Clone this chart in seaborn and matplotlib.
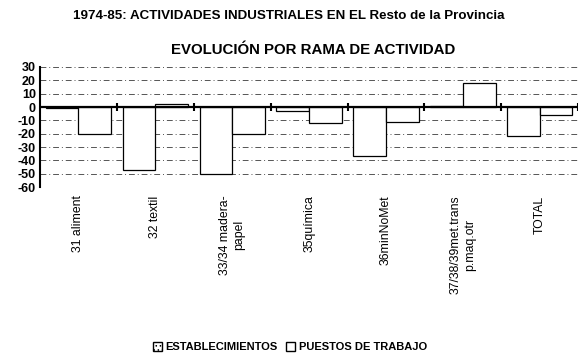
import matplotlib
matplotlib.use("Agg")
import matplotlib.pyplot as plt
import seaborn as sns
import pandas as pd
from matplotlib.patches import Patch

categories = ["31 aliment", "32 textil", "33/34 madera-\npapel", "35química",
              "36minNoMet", "37/38/39met.trans\np.maq.otr", "TOTAL"]
establecimientos = [-1, -47, -50, -3, -37, 1, -22]
puestos = [-20, 2, -20, -12, -11, 18, -6]
series_names = ["ESTABLECIMIENTOS", "PUESTOS DE TRABAJO"]
y_ticks = [30, 20, 10, 0, -10, -20, -30, -40, -50, -60]

sns.set_theme(style="white")
plt.rcParams['font.family'] = ['Liberation Sans', 'DejaVu Sans']
plt.rcParams['hatch.linewidth'] = 0.6
plt.rcParams['text.color'] = 'black'
plt.rcParams['xtick.color'] = 'black'
plt.rcParams['ytick.color'] = 'black'

df = pd.DataFrame({
    "cat": categories * 2,
    "serie": [series_names[0]] * len(categories) + [series_names[1]] * len(categories),
    "valor": establecimientos + puestos,
})

fig = plt.figure(figsize=(5.8, 3.6), dpi=100)
ax = fig.add_axes([0.069, 0.48, 0.928, 0.334])

sns.barplot(data=df, x="cat", y="valor", hue="serie", order=categories,
            hue_order=series_names, palette=["white", "white"],
            edgecolor="black", linewidth=0.9, width=0.85, ax=ax, legend=False,
            zorder=3)

ax.set_ylim(-60, 30)
ax.set_xlim(-0.5, len(categories) - 0.5)
ax.set_yticks(y_ticks)
ax.set_yticklabels([str(v) for v in y_ticks], fontsize=9, fontweight="bold", color="black")
for v in y_ticks:
    if v != 0:
        ax.axhline(v, color="#555555", lw=0.7, ls=(0, (6, 3, 1, 3)), zorder=1)
ax.axhline(0, color="black", lw=1.6, zorder=4)
ax.vlines([i + 0.5 for i in range(len(categories))], -3, 3, color="black", lw=1.5, zorder=4)

for s in ["top", "right", "bottom"]:
    ax.spines[s].set_visible(False)
ax.spines["left"].set_color("black")
ax.spines["left"].set_linewidth(1.5)
ax.tick_params(axis="y", length=4, width=1.2, direction="inout", pad=1, colors="black")
ax.tick_params(axis="x", length=0, pad=6, colors="black")
ax.set_xticks(range(len(categories)))
ax.set_xticklabels(categories, rotation=90, fontsize=8.8, va="top", ha="center", color="black")
ax.set_xlabel("")
ax.set_ylabel("")

fig.text(0.497, 0.956, "1974-85: ACTIVIDADES INDUSTRIALES EN EL Resto de la Provincia",
         ha="center", va="center", fontsize=9.6, fontweight="bold", color="black")
fig.text(0.54, 0.861, "EVOLUCIÓN POR RAMA DE ACTIVIDAD",
         ha="center", va="center", fontsize=10.8, fontweight="bold", color="black")

handles = [Patch(facecolor="white", edgecolor="black", hatch="....", label=series_names[0]),
           Patch(facecolor="white", edgecolor="black", label=series_names[1])]
leg = fig.legend(handles=handles, loc="center", bbox_to_anchor=(0.5, 0.035), ncol=2,
                 frameon=False, prop={"weight": "bold", "size": 8}, handlelength=0.8,
                 handleheight=0.8, handletextpad=0.3, columnspacing=0.8)
for t in leg.get_texts():
    t.set_color("black")

fig.savefig("out.png", dpi=100)
